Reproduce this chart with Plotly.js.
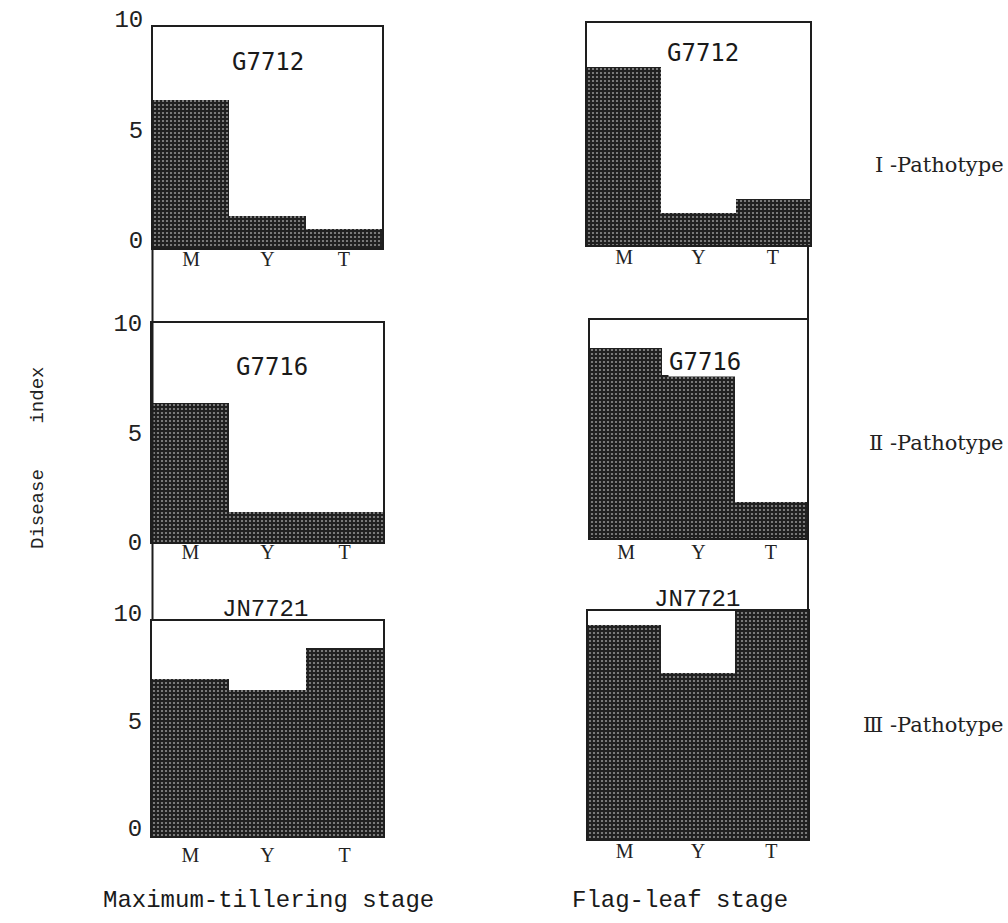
<!DOCTYPE html>
<html>
<head>
<meta charset="utf-8">
<script src="https://cdn.plot.ly/plotly-3.0.1.min.js"></script>
<style>html,body{margin:0;padding:0;background:#fff;}#chart{width:1008px;height:923px;}</style>
</head>
<body>
<div id="chart"></div>
<script>
// ---- data ----
const stages = ['M', 'Y', 'T'];
const cultivars = ['G7712', 'G7716', 'JN7721'];
const pathotypes = ['Ⅰ -Pathotype', 'Ⅱ -Pathotype', 'Ⅲ -Pathotype'];
const stageNames = ['Maximum-tillering stage', 'Flag-leaf stage'];
const yTicks = [0, 5, 10];
const g7712Tillering = [6.7, 1.45, 0.85];
const g7712FlagLeaf = [8.0, 1.45, 2.05];
const g7716Tillering = [6.35, 1.35, 1.35];
const g7716FlagLeaf = [8.7, 7.5, 1.65];
const jn7721Tillering = [7.3, 6.8, 8.75];
const jn7721FlagLeaf = [9.4, 7.3, 10.0];

// ---- layout geometry (paper fractions) ----
const W = 1008, H = 923;
const px = (a, b) => [a / W, b / W];
const py = (top, bottom) => [1 - bottom / H, 1 - top / H];
const panels = [
  {vals: g7712Tillering, x: px(153, 382), y: py(27, 248), left: true, name: cultivars[0], ax: 0.50, ay: 0.84},
  {vals: g7712FlagLeaf, x: px(587, 810), y: py(23, 245), left: false, name: cultivars[0], ax: 0.52, ay: 0.865},
  {vals: g7716Tillering, x: px(152, 383), y: py(323, 542), left: true, name: cultivars[1], ax: 0.52, ay: 0.80},
  {vals: g7716FlagLeaf, x: px(590, 807), y: py(320, 538), left: false, name: cultivars[1], ax: 0.53, ay: 0.807, bg: true},
  {vals: jn7721Tillering, x: px(152, 383), y: py(621, 836), left: true, name: cultivars[2], ax: 0.49, ay: 1.055, serif: true},
  {vals: jn7721FlagLeaf, x: px(588, 808), y: py(611, 839), left: false, name: cultivars[2], ax: 0.495, ay: 1.05, serif: true}
];
const yLabelShift = [-8, 0, 0, 0, -8, 0];
const xLabelStandoff = [-8, -7, -9, -5, 0, -7];

const traces = [];
const layout = {
  width: W, height: H,
  margin: {l: 0, r: 0, t: 0, b: 0},
  paper_bgcolor: '#ffffff', plot_bgcolor: '#ffffff',
  showlegend: false, bargap: 0,
  annotations: [], shapes: []
};

panels.forEach((p, i) => {
  const n = i + 1;
  const xa = n === 1 ? 'x' : 'x' + n;
  const ya = n === 1 ? 'y' : 'y' + n;
  traces.push({
    type: 'bar', x: stages, y: p.vals, xaxis: xa, yaxis: ya,
    marker: {
      color: '#222222',
      line: {width: 0},
      pattern: {shape: '.', fillmode: 'replace', bgcolor: '#202020', fgcolor: '#8e8e8e', size: 4, solidity: 0.24}
    },
    hoverinfo: 'skip'
  });
  layout['xaxis' + (n === 1 ? '' : n)] = {
    domain: p.x, anchor: ya, type: 'category', categoryorder: 'array', categoryarray: stages,
    showline: true, mirror: true, linecolor: '#1e1e1e', linewidth: 2,
    ticks: '', showgrid: false, zeroline: false, fixedrange: true,
    tickfont: {family: 'Liberation Serif, serif', size: 20, color: '#222'},
    ticklabelstandoff: xLabelStandoff[i]
  };
  layout['yaxis' + (n === 1 ? '' : n)] = {
    domain: p.y, anchor: xa, range: [0, 10],
    showline: true, mirror: true, linecolor: '#1e1e1e', linewidth: 2,
    ticks: '', showgrid: false, zeroline: false, fixedrange: true,
    tickvals: yTicks, showticklabels: p.left,
    tickfont: {family: 'Liberation Mono, monospace', size: 24, color: '#222'},
    ticklabelstandoff: 3, ticklabelshift: yLabelShift[i]
  };
  layout.annotations.push({
    text: p.name, xref: xa + ' domain', yref: ya + ' domain', x: p.ax, y: p.ay,
    showarrow: false, xanchor: 'center', yanchor: 'middle',
    bgcolor: p.bg ? '#ffffff' : 'rgba(0,0,0,0)', borderpad: 0,
    font: {family: p.serif ? 'Liberation Mono, monospace' : 'DejaVu Sans Mono, monospace', size: 24, color: '#1a1a1a'}
  });
});

// connecting vertical lines between rows
const lineStyle = {color: '#1e1e1e', width: 2};
layout.shapes.push({type: 'line', xref: 'paper', yref: 'paper', x0: 152.5 / W, x1: 152.5 / W, y0: 1 - 248 / H, y1: 1 - 621 / H, line: lineStyle});
layout.shapes.push({type: 'line', xref: 'paper', yref: 'paper', x0: 808 / W, x1: 808 / W, y0: 1 - 245 / H, y1: 1 - 611 / H, line: lineStyle});

// side labels
const pathY = [165, 443, 725];
pathotypes.forEach((t, i) => {
  layout.annotations.push({
    text: t, xref: 'paper', yref: 'paper', x: 1006 / W, y: 1 - pathY[i] / H,
    xanchor: 'right', yanchor: 'middle', showarrow: false,
    font: {family: 'DejaVu Serif, serif', size: 21, color: '#222'}
  });
});

// y title
layout.annotations.push({
  text: 'Disease&nbsp;&nbsp;&nbsp;&nbsp;index', xref: 'paper', yref: 'paper', x: 38 / W, y: 1 - 458 / H,
  textangle: -90, showarrow: false, xanchor: 'center', yanchor: 'middle',
  font: {family: 'Liberation Mono, monospace', size: 19, color: '#222'}
});

// stage labels
const stageX = [268, 680];
stageNames.forEach((t, i) => {
  layout.annotations.push({
    text: t, xref: 'paper', yref: 'paper', x: stageX[i] / W, y: 1 - 900 / H,
    showarrow: false, xanchor: 'center', yanchor: 'middle',
    font: {family: 'Liberation Mono, monospace', size: 24, color: '#1a1a1a'}
  });
});

Plotly.newPlot('chart', traces, layout, {displayModeBar: false, staticPlot: true});
</script>
</body>
</html>
